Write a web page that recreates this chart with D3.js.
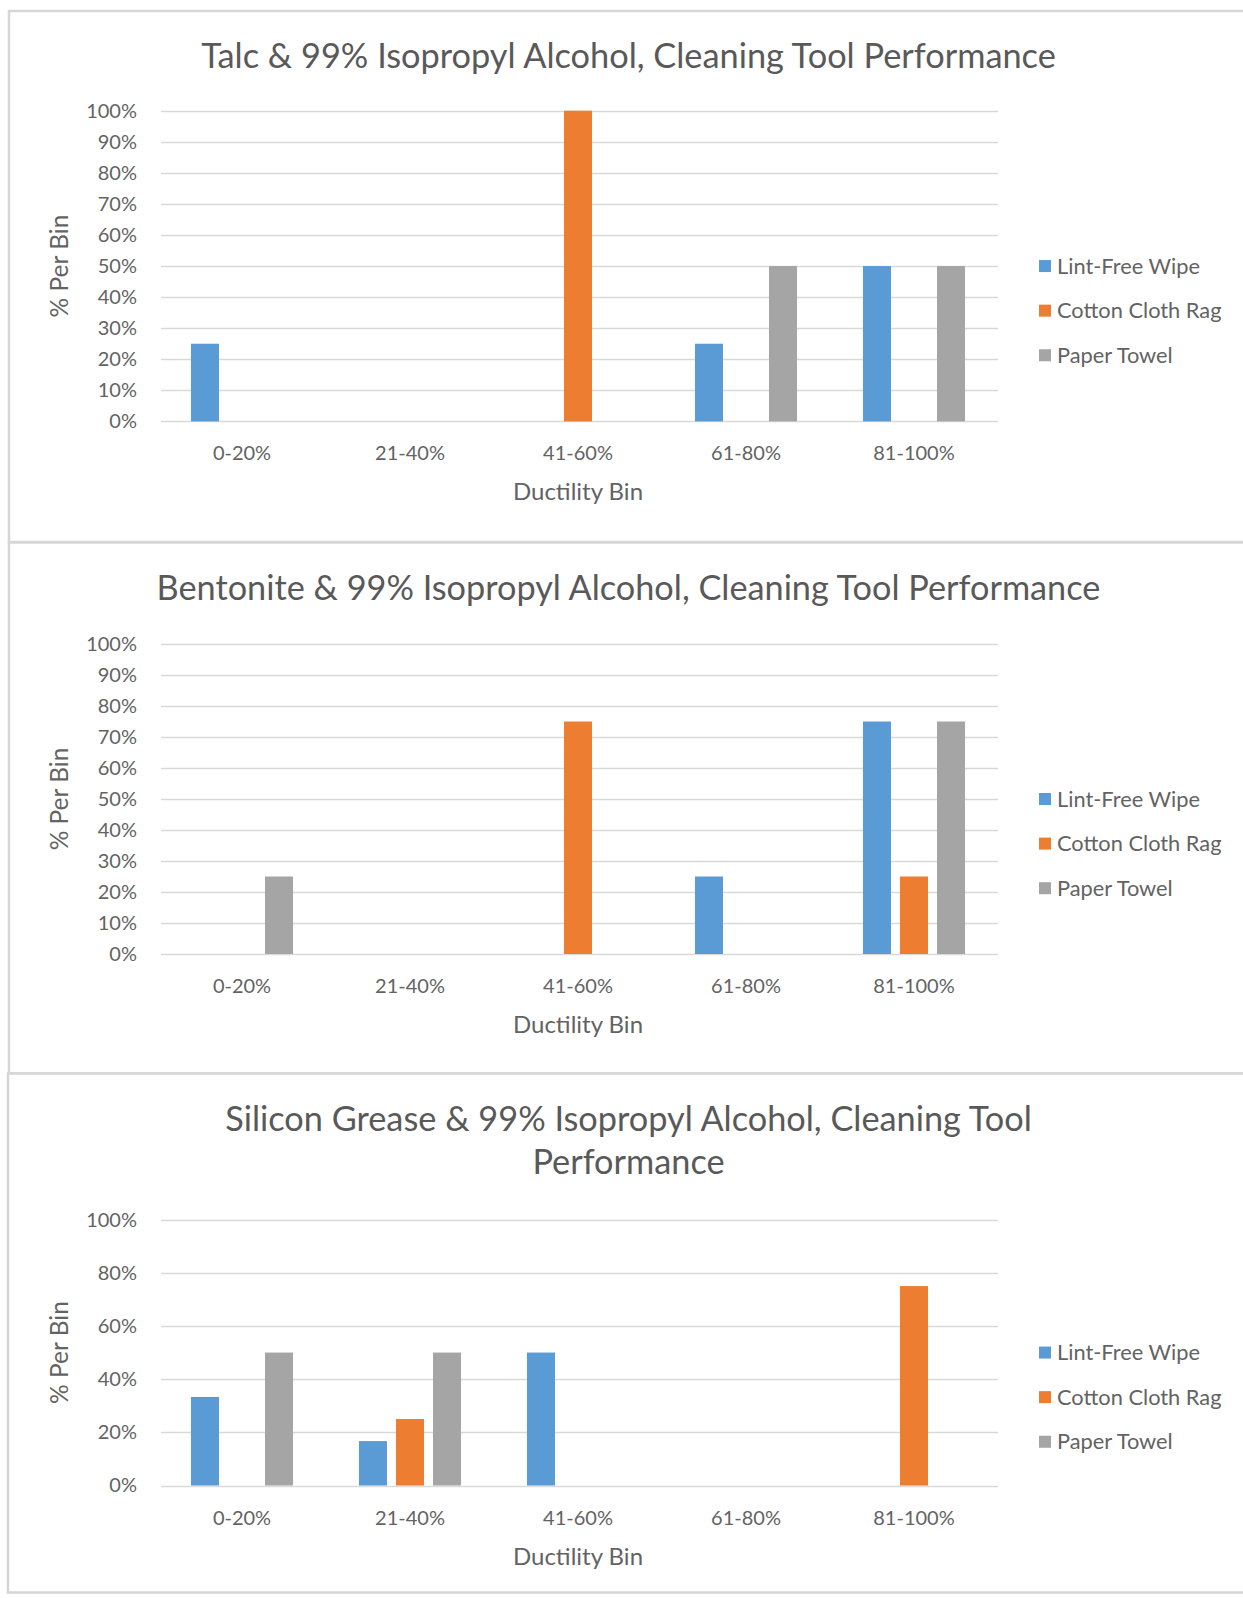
<!DOCTYPE html>
<html>
<head>
<meta charset="utf-8">
<script src="https://cdn.jsdelivr.net/npm/d3@7"></script>
<style>
  html, body { margin: 0; padding: 0; background: #fff; }
  svg { display: block; font-family: Lato, 'Open Sans', sans-serif; }
  .grid line { stroke: #d9d9d9; stroke-width: 1.3; }
  .tick-label { fill: #636363; }
  .title { fill: #595959; }
  .axis-title { fill: #636363; }
  .legend text { fill: #636363; }
</style>
</head>
<body>
<script>
//

const categories = ['0-20%', '21-40%', '41-60%', '61-80%', '81-100%']
const seriesNames = ['Lint-Free Wipe', 'Cotton Cloth Rag', 'Paper Towel']
const seriesColors = ['#5b9bd5', '#ed7d31', '#a5a5a5']

const yTicksTen = [0, 10, 20, 30, 40, 50, 60, 70, 80, 90, 100]
const yTicksTwenty = [0, 20, 40, 60, 80, 100]

// Talc & 99% IPA
const talcLintFree = [25, 0, 0, 25, 50]
const talcCotton = [0, 0, 100, 0, 0]
const talcPaper = [0, 0, 0, 50, 50]

// Bentonite & 99% IPA
const bentoniteLintFree = [0, 0, 0, 25, 75]
const bentoniteCotton = [0, 0, 75, 0, 25]
const bentonitePaper = [25, 0, 0, 0, 75]

// Silicon grease & 99% IPA
const greaseLintFree = [33.3, 16.7, 50, 0, 0]
const greaseCotton = [0, 25, 0, 0, 75]
const greasePaper = [50, 50, 0, 0, 0]

const xTitle = 'Ductility Bin'
const yTitle = '% Per Bin'

//

const width = 1243
const height = 1598

const charts = [
  {
    title: ['Talc & 99% Isopropyl Alcohol, Cleaning Tool Performance'],
    titleWidths: [855],
    series: [talcLintFree, talcCotton, talcPaper],
    ticks: yTicksTen,
    panel: {x: 9, y: 11, h: 531},
    titleY: 68,
    plot: {top: 110.7, bottom: 421.4}
  },
  {
    title: ['Bentonite & 99% Isopropyl Alcohol, Cleaning Tool Performance'],
    titleWidths: [944],
    series: [bentoniteLintFree, bentoniteCotton, bentonitePaper],
    ticks: yTicksTen,
    panel: {x: 9, y: 542.5, h: 531},
    titleY: 600,
    plot: {top: 644, bottom: 954}
  },
  {
    title: ['Silicon Grease & 99% Isopropyl Alcohol, Cleaning Tool', 'Performance'],
    titleWidths: [807, null],
    series: [greaseLintFree, greaseCotton, greasePaper],
    ticks: yTicksTwenty,
    panel: {x: 8, y: 1073.5, h: 519},
    titleY: 1130.5,
    plot: {top: 1219.6, bottom: 1485.5}
  }
]

const plotLeft = 158
const plotRight = 998

const svg = d3.select('body').append('svg')
  .attr('width', width)
  .attr('height', height)

const x = d3.scaleBand()
  .domain(categories)
  .range([plotLeft, plotRight])

const xSeries = d3.scaleBand()
  .domain(seriesNames)
  .range([0, x.bandwidth()])
  .paddingInner(0.243)
  .paddingOuter(0.89)

//

charts.forEach((c) => {
  const g = svg.append('g')

  g.append('rect')
    .attr('x', c.panel.x)
    .attr('y', c.panel.y)
    .attr('width', width - c.panel.x + 5)
    .attr('height', c.panel.h)
    .attr('fill', '#fff')
    .attr('stroke', '#d6d6d6')
    .attr('stroke-width', 2.5)

  const y = d3.scaleLinear()
    .domain([0, 100])
    .range([c.plot.bottom, c.plot.top])

  // title, scaled to the width it has in the picture
  let titleSize = null
  c.title.forEach((line, i) => {
    const t = g.append('text')
      .attr('class', 'title')
      .attr('x', 628.5)
      .attr('y', c.titleY + i * 43)
      .attr('text-anchor', 'middle')
      .style('font-size', '32px')
      .text(line)
    if (c.titleWidths[i]) {
      titleSize = 32 * c.titleWidths[i] / t.node().getComputedTextLength()
    }
    t.style('font-size', titleSize + 'px')
  })

  // gridlines
  g.append('g')
    .attr('class', 'grid')
    .selectAll('line')
    .data(c.ticks)
    .join('line')
      .attr('x1', plotLeft + 3)
      .attr('x2', plotRight)
      .attr('y1', (d) => Math.round(y(d)) + 0.5)
      .attr('y2', (d) => Math.round(y(d)) + 0.5)

  // y axis labels
  const yAxis = d3.axisLeft(y)
    .tickValues(c.ticks)
    .tickFormat((d) => d + '%')
    .tickSize(0)
    .tickPadding(0)

  g.append('g')
    .attr('transform', 'translate(137,0)')
    .call(yAxis)
    .call((s) => s.select('.domain').remove())
    .selectAll('text')
      .attr('class', 'tick-label')
      .attr('fill', null)
      .style('font-size', '20px')
      .style('font-family', 'Lato, sans-serif')

  // x axis labels
  const xAxis = d3.axisBottom(x)
    .tickSize(0)
    .tickPadding(0)

  g.append('g')
    .attr('transform', `translate(0,${c.plot.bottom})`)
    .call(xAxis)
    .call((s) => s.select('.domain').remove())
    .selectAll('text')
      .attr('class', 'tick-label')
      .attr('fill', null)
      .attr('dy', null)
      .attr('y', 39)
      .style('font-size', '20px')
      .style('font-family', 'Lato, sans-serif')

  // bars
  c.series.forEach((values, si) => {
    g.append('g')
      .selectAll('rect')
      .data(values.map((v, i) => ({cat: categories[i], v})))
      .join('rect')
        .attr('x', (d) => x(d.cat) + xSeries(seriesNames[si]))
        .attr('width', xSeries.bandwidth())
        .attr('y', (d) => y(d.v))
        .attr('height', (d) => y(0) - y(d.v))
        .attr('fill', seriesColors[si])
  })

  // axis titles
  g.append('text')
    .attr('class', 'axis-title')
    .attr('x', (plotLeft + plotRight) / 2)
    .attr('y', c.plot.bottom + 79)
    .attr('text-anchor', 'middle')
    .style('font-size', '24px')
    .text(xTitle)

  g.append('text')
    .attr('class', 'axis-title')
    .attr('transform', `translate(68,${(c.plot.top + c.plot.bottom) / 2}) rotate(-90)`)
    .attr('text-anchor', 'middle')
    .style('font-size', '24.5px')
    .text(yTitle)

  // legend
  const mid = (c.plot.top + c.plot.bottom) / 2
  const legend = g.append('g')
    .attr('class', 'legend')
    .selectAll('g')
    .data(seriesNames)
    .join('g')
      .attr('transform', (d, i) => `translate(1039,${mid + i * 44.6})`)

  legend.append('rect')
    .attr('x', 0)
    .attr('y', -6)
    .attr('width', 12)
    .attr('height', 12)
    .attr('fill', (d, i) => seriesColors[i])

  legend.append('text')
    .attr('x', 18)
    .attr('dy', '0.35em')
    .style('font-size', '21.8px')
    .text((d) => d)
})
</script>
</body>
</html>
